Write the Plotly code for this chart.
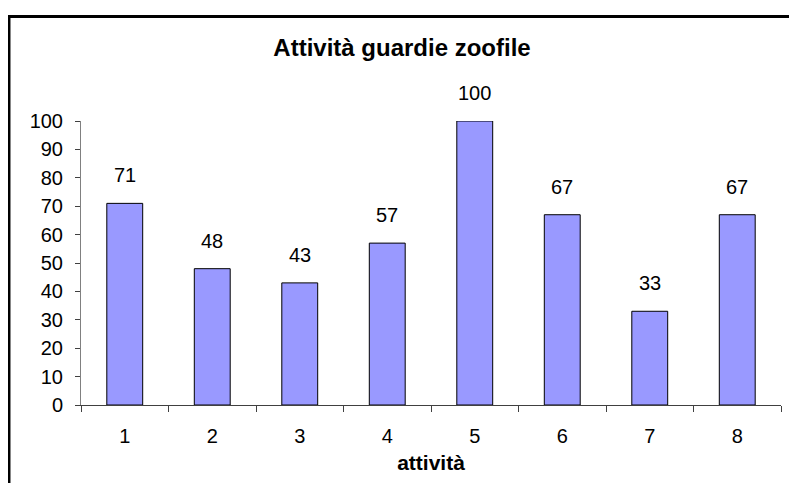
import plotly.graph_objects as go

# data
categories = ['1', '2', '3', '4', '5', '6', '7', '8']
values = [71, 48, 43, 57, 100, 67, 33, 67]
title = 'Attività guardie zoofile'
x_title = 'attività'
y_ticks = list(range(0, 101, 10))

FONT = 'Liberation Sans, Arial, sans-serif'

# page body adds an 8px offset, so the figure is sized 8px smaller
W, H = 789, 475

fig = go.Figure()

fig.add_trace(go.Bar(
    x=categories,
    y=values,
    width=0.41,
    marker=dict(color='#9999FF', line=dict(color='#000000', width=1)),
    hoverinfo='x+y',
))

# value labels above bars
for i, v in enumerate(values):
    fig.add_annotation(
        x=i, y=v, text=str(v), showarrow=False,
        yshift=28, font=dict(family=FONT, size=20, color='#000000'),
    )

# outer chart border (only top and left edges visible in the frame)
fig.add_shape(
    type='rect', xref='paper', yref='paper',
    x0=-0.1029, x1=1.5, y0=-0.8, y1=1.368,
    line=dict(color='#000000', width=3), fillcolor='rgba(0,0,0,0)',
    layer='above',
)

fig.update_layout(
    width=W, height=H,
    margin=dict(l=73, r=16, t=113, b=74),
    paper_bgcolor='white',
    plot_bgcolor='white',
    showlegend=False,
    title=dict(
        text='<b>' + title + '</b>',
        x=394 / W, xref='container', xanchor='center',
        y=1 - 40 / H, yref='container', yanchor='middle',
        font=dict(family=FONT, size=24, color='#000000'),
    ),
    xaxis=dict(
        type='category',
        range=[-0.5, 7.5],
        showgrid=False,
        showline=True, linecolor='#404040', linewidth=1,
        ticks='outside', ticklen=6, tickcolor='#404040',
        tickson='boundaries',
        tickfont=dict(family=FONT, size=20, color='#000000'),
        ticklabelstandoff=13,
        title=dict(text='<b>' + x_title + '</b>', standoff=9,
                   font=dict(family=FONT, size=21, color='#000000')),
        zeroline=False,
    ),
    yaxis=dict(
        range=[0, 100],
        tickvals=y_ticks,
        showgrid=False,
        showline=True, linecolor='#808080', linewidth=1,
        ticks='outside', ticklen=5, tickcolor='#404040',
        tickfont=dict(family=FONT, size=20, color='#000000'),
        ticklabelstandoff=8,
        zeroline=False,
    ),
    bargap=0.59,
)

fig.write_html('out.html')
